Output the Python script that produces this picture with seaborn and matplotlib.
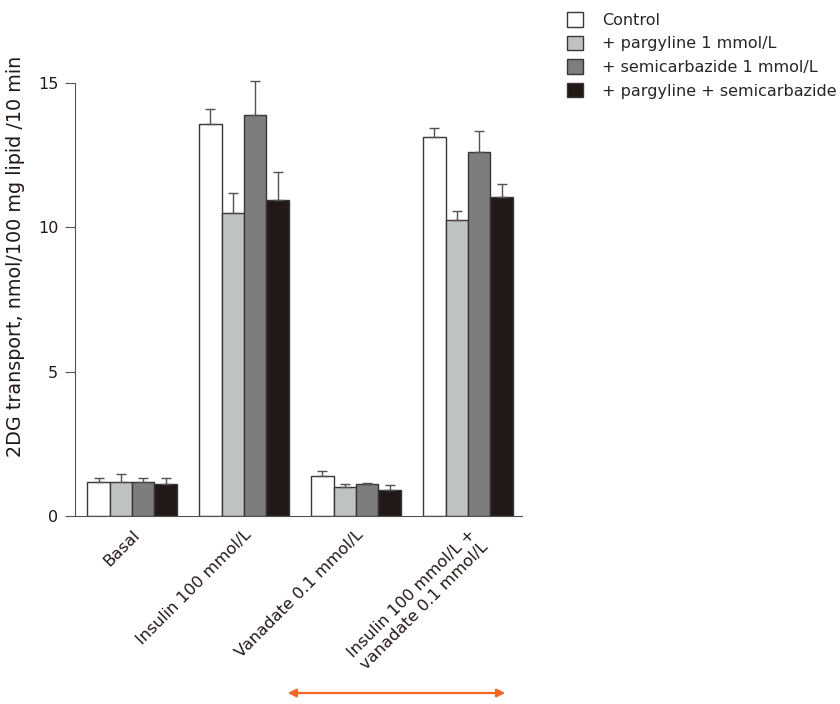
import numpy as np
import pandas as pd
import matplotlib
matplotlib.use("Agg")
import matplotlib.pyplot as plt
import seaborn as sns
from matplotlib.patches import Patch, FancyArrowPatch

# values
conditions = ["Basal", "Insulin 100 mmol/L", "Vanadate 0.1 mmol/L",
              "Insulin 100 mmol/L +\nvanadate 0.1 mmol/L"]
treatments = ["Control", "+ pargyline 1 mmol/L", "+ semicarbazide 1 mmol/L",
              "+ pargyline + semicarbazide"]
control = [1.17, 13.59, 1.37, 13.14]
pargyline = [1.17, 10.51, 1.00, 10.26]
semicarbazide = [1.17, 13.88, 1.12, 12.62]
both = [1.12, 10.96, 0.91, 11.06]
control_err = [0.14, 0.52, 0.20, 0.31]
pargyline_err = [0.28, 0.66, 0.12, 0.29]
semicarbazide_err = [0.14, 1.20, 0.03, 0.70]
both_err = [0.21, 0.94, 0.15, 0.44]

colors = ["#ffffff", "#c0c2c1", "#7d7d7d", "#231816"]

rows = []
for t, vals, errs in zip(treatments,
                         [control, pargyline, semicarbazide, both],
                         [control_err, pargyline_err, semicarbazide_err, both_err]):
    for c, v, e in zip(conditions, vals, errs):
        rows.append({"condition": c, "treatment": t, "value": v, "err": e})
df = pd.DataFrame(rows)

sns.set_style("ticks")
plt.rcParams["font.family"] = ["DejaVu Sans"]

fig = plt.figure(figsize=(8.4, 7.04), dpi=100)
ax = fig.add_axes([75 / 840, 1 - 516 / 704, (521.7 - 75) / 840, (516 - 80) / 704])

sns.barplot(data=df, x="condition", y="value", hue="treatment",
            hue_order=treatments, order=conditions, palette=colors,
            errorbar=None, width=0.8, edgecolor="#3a3636", linewidth=1.0,
            legend=False, ax=ax)

# upper error bars only
for i, t in enumerate(treatments):
    sub = df[df["treatment"] == t].set_index("condition").loc[conditions]
    bars = ax.containers[i]
    xs = [b.get_x() + b.get_width() / 2 for b in bars]
    ax.errorbar(xs, sub["value"], yerr=[np.zeros(len(xs)), sub["err"]],
                fmt="none", ecolor="#555151", elinewidth=1.0, capsize=3.5,
                capthick=1.0, zorder=1)

ax.set_xlim(-0.51, 3.48)
ax.set_ylim(0, 15.1)
ax.set_yticks([0, 5, 10, 15])
ax.spines["left"].set_bounds(0, 15)
sns.despine(ax=ax)
ax.spines["left"].set_color("#555151")
ax.spines["bottom"].set_color("#555151")
ax.tick_params(axis="y", labelsize=11.5, colors="#555151", labelcolor="#231816",
               length=7, direction="out", pad=5)
ax.tick_params(axis="x", length=0, pad=8)
ax.set_xticks(range(len(conditions)))
ax.set_xticklabels(conditions, rotation=45, ha="right", rotation_mode="anchor",
                   fontsize=11.7, color="#231816", multialignment="right")
ax.set_xlabel("")
ax.set_ylabel("2DG transport, nmol/100 mg lipid /10 min", fontsize=13.8,
              color="#231816")
ax.yaxis.set_label_coords(-0.112, 0.596)

handles = [Patch(facecolor=c, edgecolor="#3a3636", linewidth=1.0) for c in colors]
fig.legend(handles, treatments, loc="upper left", bbox_to_anchor=(0.658, 1.003),
           frameon=False, fontsize=11.5, handlelength=1.0, handleheight=1.0,
           handletextpad=1.2, labelspacing=0.5)

# orange double-headed arrow below the labels
fig.add_artist(FancyArrowPatch(
    (285 / 840, 1 - 693 / 704), (508 / 840, 1 - 693 / 704),
    transform=fig.transFigure, arrowstyle="<|-|>", mutation_scale=12,
    color="#f26522", linewidth=1.6))

fig.savefig("out.png", dpi=100)
